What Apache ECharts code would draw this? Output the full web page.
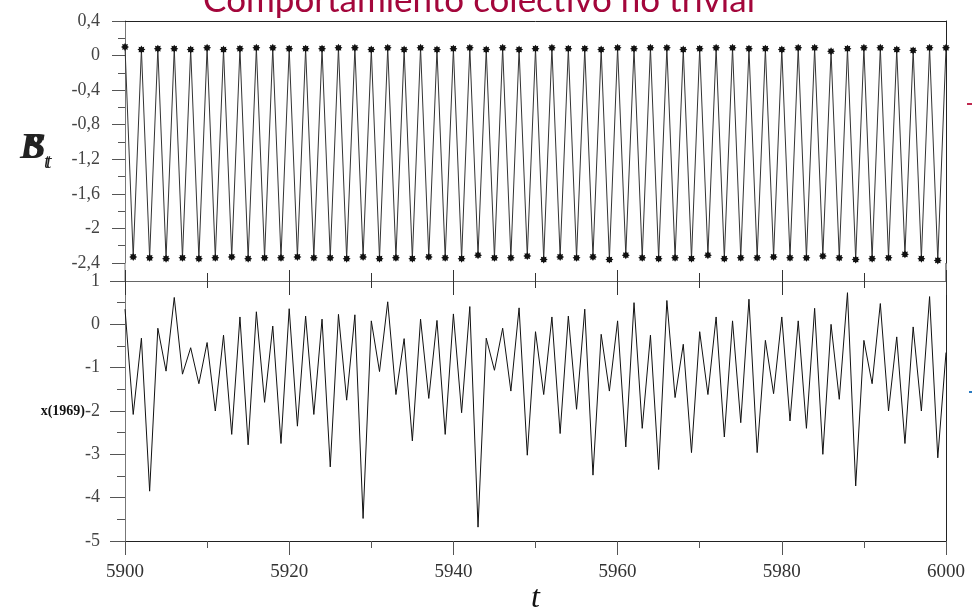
<!DOCTYPE html>
<html>
<head>
<meta charset="utf-8">
<script src="https://cdn.jsdelivr.net/npm/echarts@6/dist/echarts.min.js"></script>
<style>
  html, body { margin: 0; padding: 0; background: #fff; }
  #chart { width: 972px; height: 609px; }
</style>
</head>
<body>
<div id="chart"></div>
<script>
var tStart = 5900;
var tEnd = 6000;

// S_t at even t (peaks) and odd t (troughs)
var stPeaks = [0.10, 0.07, 0.08, 0.08, 0.07, 0.09, 0.07, 0.08, 0.09, 0.09,
  0.08, 0.08, 0.08, 0.09, 0.09, 0.07, 0.09, 0.07, 0.09, 0.07,
  0.08, 0.09, 0.07, 0.09, 0.07, 0.08, 0.09, 0.08, 0.08, 0.07,
  0.09, 0.08, 0.09, 0.09, 0.07, 0.08, 0.09, 0.09, 0.08, 0.08,
  0.07, 0.09, 0.09, 0.05, 0.08, 0.09, 0.09, 0.07, 0.06, 0.09, 0.09];
var stTroughs = [-2.33, -2.34, -2.35, -2.34, -2.35, -2.34, -2.33, -2.35, -2.34, -2.34,
  -2.33, -2.34, -2.34, -2.35, -2.33, -2.35, -2.34, -2.35, -2.33, -2.34,
  -2.35, -2.31, -2.34, -2.34, -2.32, -2.36, -2.33, -2.34, -2.33, -2.36,
  -2.31, -2.34, -2.35, -2.34, -2.35, -2.31, -2.35, -2.34, -2.34, -2.33,
  -2.34, -2.34, -2.32, -2.34, -2.36, -2.35, -2.34, -2.30, -2.35, -2.37];

// x(1969) for t = 5900 .. 6000
var xValues = [0.35, -2.08, -0.32, -3.85, -0.09, -1.08, 0.62, -1.15, -0.54, -1.37,
  -0.42, -2.00, -0.25, -2.54, 0.17, -2.78, 0.29, -1.80, -0.04, -2.75,
  0.36, -2.35, 0.19, -2.08, 0.12, -3.29, 0.23, -1.75, 0.22, -4.48,
  0.08, -1.09, 0.52, -1.62, -0.33, -2.69, 0.12, -1.71, 0.09, -2.54,
  0.24, -2.04, 0.41, -4.68, -0.32, -1.06, -0.09, -1.54, 0.38, -3.02,
  -0.17, -1.62, 0.17, -2.52, 0.19, -1.96, 0.35, -3.48, -0.23, -1.54,
  0.08, -2.83, 0.50, -2.40, -0.25, -3.35, 0.55, -1.69, -0.46, -2.96,
  -0.17, -1.62, 0.17, -2.60, 0.08, -2.27, 0.58, -2.96, -0.37, -1.60,
  0.17, -2.23, 0.08, -2.40, 0.37, -3.00, 0.00, -1.73, 0.73, -3.73,
  -0.37, -1.37, 0.48, -2.00, -0.29, -2.75, -0.06, -2.00, 0.64, -3.08,
  -0.65];

var topData = [];
var bottomData = [];
for (var i = 0; i <= tEnd - tStart; i++) {
  var v = (i % 2 === 0) ? stPeaks[i / 2] : stTroughs[(i - 1) / 2];
  topData.push([tStart + i, v]);
  bottomData.push([tStart + i, xValues[i]]);
}

var serif = 'Liberation Serif';
var axisColor = '#555';
var starPath = 'path://M10 5L7.96 6.22L8.54 8.54L6.22 7.96L5 10L3.78 7.96L1.46 8.54L2.04 6.22L0 5L2.04 3.78L1.46 1.46L3.78 2.04L5 0L6.22 2.04L8.54 1.46L7.96 3.78Z';

function commaLabel(v) {
  return String(Number(v.toFixed(1))).replace('.', ',');
}

var dom = document.getElementById('chart');
var myChart = echarts.init(dom, null, { renderer: 'canvas' });

var option = {
  animation: false,
  backgroundColor: '#fff',
  grid: [
    { left: 125, right: 26, top: 21, height: 242, outerBoundsMode: 'none' },
    { left: 125, right: 26, top: 281, height: 260, outerBoundsMode: 'none' }
  ],
  xAxis: [
    {
      gridIndex: 0, type: 'value', min: tStart, max: tEnd, position: 'top',
      axisLine: { show: true, onZero: false, lineStyle: { color: '#222' } },
      axisTick: { show: false }, axisLabel: { show: false }, splitLine: { show: false }
    },
    {
      gridIndex: 1, type: 'value', min: tStart, max: tEnd, interval: 20, position: 'bottom',
      axisLine: { show: true, onZero: false, lineStyle: { color: '#222' } },
      axisTick: { show: true, length: 14, lineStyle: { color: axisColor } },
      minorTick: { show: true, splitNumber: 2, length: 7, lineStyle: { color: axisColor } },
      axisLabel: { fontFamily: serif, fontSize: 19, color: '#333', margin: 22,
        formatter: function (v) { return String(v); } },
      splitLine: { show: false }, minorSplitLine: { show: false },
      name: 't', nameLocation: 'middle', nameGap: 38,
      nameTextStyle: { fontFamily: serif, fontStyle: 'italic', fontSize: 32, color: '#111' }
    },
    {
      gridIndex: 1, type: 'value', min: tStart, max: tEnd, interval: 20, position: 'top',
      axisLine: { show: true, onZero: false, lineStyle: { color: '#666' } },
      axisTick: { show: true, length: 11, lineStyle: { color: '#333' } },
      minorTick: { show: true, splitNumber: 2, length: 8, lineStyle: { color: '#333' } },
      axisLabel: { show: false }, splitLine: { show: false }
    },
    {
      gridIndex: 1, type: 'value', min: tStart, max: tEnd, interval: 20, position: 'top',
      axisLine: { show: false, onZero: false },
      axisTick: { show: true, inside: true, length: 14, lineStyle: { color: '#333' } },
      minorTick: { show: true, splitNumber: 2, length: 7, lineStyle: { color: '#333' } },
      axisLabel: { show: false }, splitLine: { show: false }
    }
  ],
  yAxis: [
    {
      gridIndex: 0, type: 'value', min: -2.4, max: 0.4, interval: 0.4,
      axisLine: { show: true, onZero: false, lineStyle: { color: '#777' } },
      axisTick: { show: true, length: 13, lineStyle: { color: axisColor } },
      minorTick: { show: true, splitNumber: 2, length: 7, lineStyle: { color: axisColor } },
      axisLabel: { fontFamily: serif, fontSize: 18, color: '#444', margin: 25, formatter: commaLabel },
      splitLine: { show: false }
    },
    {
      gridIndex: 0, type: 'value', min: -2.4, max: 0.4, position: 'right',
      axisLine: { show: true, onZero: false, lineStyle: { color: '#222' } },
      axisTick: { show: false }, axisLabel: { show: false }, splitLine: { show: false }
    },
    {
      gridIndex: 1, type: 'value', min: -5, max: 1, interval: 1,
      axisLine: { show: true, onZero: false, lineStyle: { color: '#777' } },
      axisTick: { show: true, length: 15, lineStyle: { color: axisColor } },
      minorTick: { show: true, splitNumber: 2, length: 8, lineStyle: { color: axisColor } },
      axisLabel: { fontFamily: serif, fontSize: 18, color: '#444', margin: 25 },
      splitLine: { show: false }
    },
    {
      gridIndex: 1, type: 'value', min: -5, max: 1, position: 'right',
      axisLine: { show: true, onZero: false, lineStyle: { color: '#222' } },
      axisTick: { show: false }, axisLabel: { show: false }, splitLine: { show: false }
    }
  ],
  series: [
    {
      type: 'line', xAxisIndex: 0, yAxisIndex: 0, data: topData,
      symbol: starPath, symbolSize: 8, showAllSymbol: true,
      itemStyle: { color: '#111' },
      lineStyle: { color: '#333', width: 1 }
    },
    {
      type: 'line', xAxisIndex: 1, yAxisIndex: 2, data: bottomData,
      showSymbol: false,
      lineStyle: { color: '#111', width: 1 }
    }
  ],
  graphic: [
    {
      type: 'text', x: 479, y: -17,
      style: { text: 'Comportamiento colectivo no trivial', font: '35px Lato', fill: '#a3063b', align: 'center' }
    },
    // overlapping y labels of the top panel
    {
      type: 'text', x: 20, y: 125,
      style: { text: '{a|B}{b|t}', rich: {
        a: { fontFamily: serif, fontStyle: 'italic', fontWeight: 'bold', fontSize: 36, fill: '#222' },
        b: { fontFamily: serif, fontStyle: 'italic', fontSize: 20, fill: '#222', padding: [28, 0, 0, 0] }
      } }
    },
    {
      type: 'text', x: 26, y: 125,
      style: { text: '{a|S}{b|t}', rich: {
        a: { fontFamily: serif, fontStyle: 'italic', fontWeight: 'bold', fontSize: 36, fill: '#222' },
        b: { fontFamily: serif, fontStyle: 'italic', fontSize: 20, fill: '#222', padding: [28, 0, 0, 0] }
      } }
    },
    {
      type: 'text', x: 85, y: 411,
      style: { text: 'x(1969)', fontFamily: serif, fontWeight: 'bold', fontSize: 14, fill: '#111', align: 'right', verticalAlign: 'middle' }
    },
    // axis line segments between the two panels
    { type: 'line', shape: { x1: 125, y1: 263, x2: 125, y2: 281 }, style: { stroke: '#777', lineWidth: 1 } },
    { type: 'line', shape: { x1: 946, y1: 263, x2: 946, y2: 281 }, style: { stroke: '#222', lineWidth: 1 } },
    // small marks at the right edge
    { type: 'rect', shape: { x: 967, y: 103, width: 5, height: 2 }, style: { fill: '#c0284f' } },
    { type: 'rect', shape: { x: 969, y: 391, width: 3, height: 2 }, style: { fill: '#2a7ac0' } }
  ]
};

myChart.setOption(option);

window.addEventListener('resize', function () {
  myChart.resize();
});
</script>
</body>
</html>
